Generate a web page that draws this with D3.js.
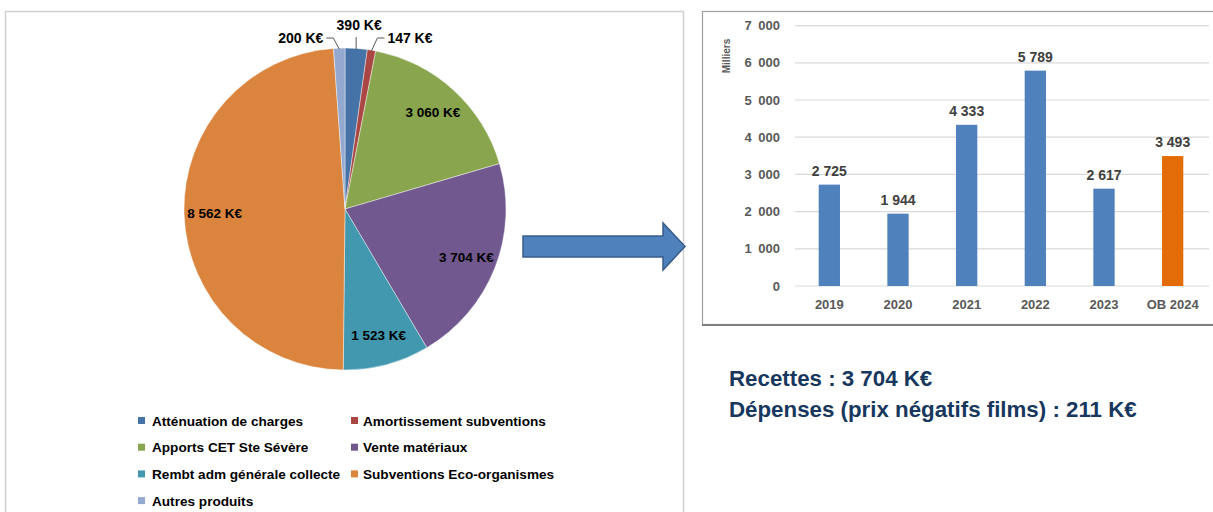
<!DOCTYPE html>
<html>
<head>
<meta charset="utf-8">
<title>Recettes</title>
<script src="https://d3js.org/d3.v7.min.js"></script>
<style>
html, body { margin: 0; padding: 0; background: #fff; }
svg { display: block; }
.narrow { font-family: "Liberation Sans Narrow", "Liberation Sans", Arial, sans-serif; font-weight: bold; }
.lbl { font-family: "Liberation Sans", Arial, sans-serif; font-weight: bold; }
</style>
</head>
<body>
<script>
// pie data (K€)
let pieLabels = ['Atténuation de charges', 'Amortissement subventions', 'Apports CET Ste Sévère', 'Vente matériaux', 'Rembt adm générale collecte', 'Subventions Eco-organismes', 'Autres produits'];
let pieValues = [390, 147, 3060, 3704, 1523, 8562, 200];
let pieColors = ['#4572A7', '#AA4643', '#89A54E', '#71588F', '#4198AF', '#DB843D', '#93A9CF'];
// where each slice label goes: inside, or outside with a leader line
let pieLabelMode = ['top', 'right', 'in', 'in', 'in', 'in', 'left'];

// bar data (milliers)
let years = ['2019', '2020', '2021', '2022', '2023', 'OB 2024'];
let amounts = [2725, 1944, 4333, 5789, 2617, 3493];
let barColors = ['#4F81BD', '#4F81BD', '#4F81BD', '#4F81BD', '#4F81BD', '#E36C09'];
let yTicks = [0, 1000, 2000, 3000, 4000, 5000, 6000, 7000];

let width = 1213, height = 512;
let svg = d3.select('body').append('svg').attr('width', width).attr('height', height);

let fmt = (v) => d3.format(',')(v).replace(/,/g, ' ');

// ---------- left panel frame
svg.append('path').attr('d', 'M5.5,512 V11.5 H683.5 V512')
    .attr('fill', 'none').attr('stroke', '#d0d0d0').attr('stroke-width', 1.5);

// ---------- pie
let cx = 345, cy = 209, r = 161;
let pie = d3.pie().sort(null).value((d) => d.v);
let arcs = pie(pieValues.map((v, i) => ({v: v, name: pieLabels[i], color: pieColors[i], mode: pieLabelMode[i]})));
let arc = d3.arc().innerRadius(0).outerRadius(r);
let gPie = svg.append('g').attr('transform', 'translate(' + cx + ',' + cy + ')');

gPie.selectAll('path.slice').data(arcs).enter().append('path')
    .attr('class', 'slice')
    .attr('d', arc)
    .attr('fill', (d) => d.data.color)
    .attr('stroke', '#fff').attr('stroke-width', 0.6).attr('stroke-opacity', 0.7);

let inArc = d3.arc().innerRadius(r * 0.81).outerRadius(r * 0.81);
gPie.selectAll('text.in').data(arcs.filter((d) => d.data.mode === 'in')).enter().append('text')
    .attr('class', 'narrow in')
    .attr('x', (d) => inArc.centroid(d)[0]).attr('y', (d) => inArc.centroid(d)[1])
    .attr('text-anchor', 'middle').attr('dy', '0.35em')
    .attr('font-size', 13.5).attr('fill', '#000')
    .text((d) => fmt(d.data.v) + ' K€');

// outside labels with leader lines
arcs.filter((d) => d.data.mode !== 'in').forEach((d) => {
    let a = (d.startAngle + d.endAngle) / 2;
    let p0 = [Math.sin(a) * (r - 1), -Math.cos(a) * (r - 1)];
    if (d.data.mode === 'top') {
        let p1 = [p0[0], -(r + 11)];
        gPie.append('path').attr('d', 'M' + p0 + 'L' + p1).attr('stroke', '#595959').attr('fill', 'none');
        gPie.append('text').attr('class', 'narrow').attr('font-size', 14)
            .attr('x', p0[0] + 3).attr('y', -(r + 18)).attr('text-anchor', 'middle')
            .text(fmt(d.data.v) + ' K€');
    } else {
        let side = d.data.mode === 'right' ? 1 : -1;
        let p1 = [p0[0] + side * 6, -(r + 10)];
        let p2 = [p1[0] + side * 7, p1[1]];
        gPie.append('path').attr('d', 'M' + p0 + 'L' + p1 + 'L' + p2).attr('stroke', '#595959').attr('fill', 'none');
        gPie.append('text').attr('class', 'narrow').attr('font-size', 14)
            .attr('x', p2[0] + side * 3).attr('y', p2[1]).attr('dy', '0.35em')
            .attr('text-anchor', side > 0 ? 'start' : 'end')
            .text(fmt(d.data.v) + ' K€');
    }
});

// legend
let legend = svg.append('g').attr('transform', 'translate(138, 421)');
let li = legend.selectAll('g').data(pieLabels).enter().append('g')
    .attr('transform', (d, i) => 'translate(' + (i % 2) * 213 + ',' + Math.floor(i / 2) * 26.7 + ')');
li.append('rect').attr('x', 0).attr('y', -4).attr('width', 7).attr('height', 7).attr('fill', (d, i) => pieColors[i]);
li.append('text').attr('class', 'lbl').attr('x', (d, i) => i % 2 ? 12 : 14).attr('dy', '0.35em').attr('font-size', 13.6)
    .attr('fill', '#000').text((d) => d);

// ---------- arrow
svg.append('path')
    .attr('d', 'M523,236 H663 V223 L685,246.5 L663,270 V257 H523 Z')
    .attr('fill', '#4F81BD').attr('stroke', '#385D8A').attr('stroke-width', 1.5);

// ---------- bar chart
svg.append('rect').attr('x', 702.5).attr('y', 11.5).attr('width', 520).attr('height', 313)
    .attr('fill', '#fff').attr('stroke', '#a0a0a0').attr('stroke-width', 1.2);
svg.append('line').attr('x1', 702).attr('x2', 1213).attr('y1', 325).attr('y2', 325)
    .attr('stroke', '#7f7f7f').attr('stroke-width', 2);

let x = d3.scaleBand().domain(years).range([795, 1207]).paddingInner(0.69).paddingOuter(0.345);
let y = d3.scaleLinear().domain([0, 7000]).range([286, 25.6]);

let grid = svg.append('g');
grid.selectAll('line').data(yTicks).enter().append('line')
    .attr('x1', 795).attr('x2', 1209)
    .attr('y1', (d) => y(d)).attr('y2', (d) => y(d))
    .attr('stroke', '#d9d9d9').attr('stroke-width', 1.2);

let yAxis = d3.axisLeft(y).tickValues(yTicks).tickSize(0).tickPadding(0)
    .tickFormat((d) => d === 0 ? '0' : fmt(d).replace(' ', '\u2002'));
let gy = svg.append('g').attr('transform', 'translate(780,0)').call(yAxis);
gy.select('.domain').remove();
gy.selectAll('text').attr('class', 'lbl').attr('font-size', 13).attr('fill', '#595959');

let xAxis = d3.axisBottom(x).tickSize(0).tickPadding(0);
let gx = svg.append('g').attr('transform', 'translate(0,300)').call(xAxis);
gx.select('.domain').remove();
gx.selectAll('text').attr('class', 'lbl').attr('font-size', 13).attr('fill', '#595959');

svg.append('text').attr('class', 'lbl').attr('font-size', 10).attr('fill', '#595959')
    .attr('transform', 'translate(730,56) rotate(-90)').attr('text-anchor', 'middle')
    .text('Milliers');

svg.append('g').selectAll('rect').data(amounts).enter().append('rect')
    .attr('x', (d, i) => x(years[i])).attr('width', x.bandwidth())
    .attr('y', (d) => y(d)).attr('height', (d) => y(0) - y(d))
    .attr('fill', (d, i) => barColors[i]);

svg.append('g').selectAll('text').data(amounts).enter().append('text')
    .attr('class', 'narrow').attr('font-size', 14).attr('fill', '#404040')
    .attr('text-anchor', 'middle')
    .attr('x', (d, i) => x(years[i]) + x.bandwidth() / 2)
    .attr('y', (d) => y(d) - 9)
    .text((d) => fmt(d));

// ---------- summary text
let summary = ['Recettes : 3 704 K€', 'Dépenses (prix négatifs films) : 211 K€'];
svg.append('g').selectAll('text').data(summary).enter().append('text')
    .attr('x', 729).attr('y', (d, i) => 386 + i * 31)
    .attr('font-family', '"Liberation Sans", Arial, sans-serif')
    .attr('font-weight', 'bold').attr('font-size', 22.3).attr('fill', '#17375E')
    .text((d) => d);
</script>
</body>
</html>
